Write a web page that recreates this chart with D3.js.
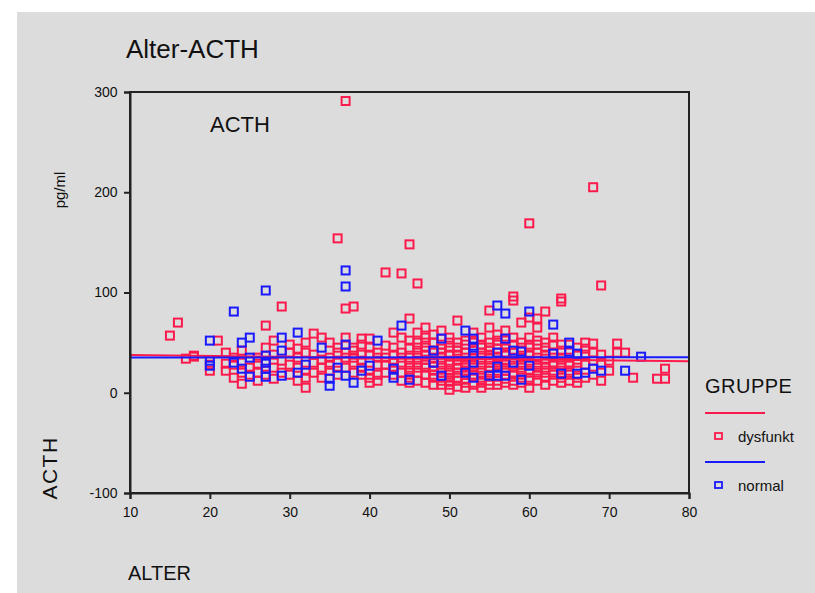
<!DOCTYPE html>
<html><head><meta charset="utf-8">
<script src="https://cdn.jsdelivr.net/npm/d3@7/dist/d3.min.js"></script>
<style>body{margin:0;background:#fff;} text{font-family:"Liberation Sans",Arial,sans-serif;}</style>
</head><body>
<svg id="c" width="815" height="593"></svg>
<script>
// ---- data (age : ACTH values) ----
const dysfunktByAge = [
 [15,[57]],[16,[70]],[17,[34]],[18,[36,37]],[20,[22,28]],[21,[52]],[22,[29,22,40]],
 [23,[35,15,28]],[24,[42,9,20,30]],[25,[18,25]],[26,[12,29,20,35]],[27,[67,45,18,30]],
 [28,[52,25,38,14]],[29,[86,20,32]],[30,[40,28,18,48]],[31,[44,35,12,25]],
 [32,[5,40,15,50,22]],[33,[59,30,20,38]],[34,[55,25,15,33]],[35,[22,50,35,28]],
 [36,[154,40,18,30,45]],[37,[291,84,25,35,55,40]],[38,[86,30,20,42,45,35]],
 [39,[54,25,38,18,48,32]],[40,[54,15,45,22,10,38]],[41,[28,18,40,12,35]],
 [42,[120,47,35,20,28]],[43,[60,25,38,45,30,18]],[44,[119,40,20,30,12,55,35]],
 [45,[148,74,35,25,15,45,10,52,30,20]],[46,[109,60,30,20,40,12,50,25,35,45]],
 [47,[65,28,18,38,45,10,25,33,50,55]],[48,[58,35,22,15,8,50,26,18,40,30]],
 [49,[62,30,20,12,40,25,48,35,8,15,44]],[50,[55,38,28,15,8,45,22,32,18,3,50,12]],
 [51,[72,32,20,12,42,25,50,38,15,6,28,45]],[52,[40,28,18,10,35,48,22,30,14,52,25,5]],
 [53,[60,50,35,22,25,52,8,10,18,28,42]],[54,[48,35,25,15,40,20,30,10,55,5,45,12]],
 [55,[82,65,42,30,18,25,12,38,50,22,35,8,45]],[56,[58,48,28,20,12,35,32,8,52,22,44]],
 [57,[62,45,32,22,38,28,10,52,40,25,14,48]],[58,[96,92,55,40,18,25,35,12,48,8,20,30]],
 [59,[70,42,30,20,15,35,25,50,10,45,28]],[60,[169,75,45,32,22,15,38,5,55,48,28,12]],
 [61,[74,65,40,28,18,35,25,48,12,22,52]],[62,[81,45,30,20,38,25,15,50,8,34]],
 [63,[55,40,28,18,35,22,12,48,30]],[64,[94,91,42,30,20,35,25,15,10,48]],
 [65,[48,35,28,22,12,30,18]],[66,[45,30,25,15,10,38]],[67,[50,38,28,15,44]],
 [68,[205,49,40,32,18]],[69,[107,38,28,12]],[70,[22,32]],[71,[49,40]],
 [72,[40]],[73,[15]],[76,[14]],[77,[24,14]]
];
const normalByAge = [
 [20,[52,32,27]],[23,[81,30]],[24,[50,24]],[25,[55,35,16]],[27,[102,37,30,24,16]],
 [29,[55,42,17]],[31,[60,20]],[32,[28]],[34,[45]],[35,[14,7]],[36,[25]],
 [37,[122,106,48,17]],[38,[10]],[39,[22]],[40,[27]],[41,[52]],[43,[24,15]],
 [44,[67]],[45,[13]],[48,[42,30]],[49,[54,17]],[52,[62,20]],[53,[54,45,39,30,15]],
 [55,[17]],[56,[87,40,26,17]],[57,[79,54,17]],[58,[42,30]],[59,[41,13]],
 [60,[81,27]],[63,[68,39]],[64,[19]],[65,[50,41]],[66,[39,19]],[67,[20]],
 [68,[24]],[69,[22]],[72,[22]],[74,[36]]
];
// fitted lines: [age, ACTH]
const fitDysfunkt = [[10,37.6],[80,31.3]];
const fitNormal = [[10,35.2],[80,35.4]];
const xTicks = [10,20,30,40,50,60,70,80];
const yTicks = [-100,0,100,200,300];
const groups = ["dysfunkt","normal"];
const colors = {dysfunkt:"#ff1a4d", normal:"#1a1aff"};

const flat = arr => arr.flatMap(([a,vs]) => vs.map(v => ({age:a, v:v})));
const ptsD = flat(dysfunktByAge), ptsN = flat(normalByAge);

const svg = d3.select("#c");
svg.append("rect").attr("x",17).attr("y",12).attr("width",798).attr("height",581).attr("fill","#dcdcdc");

const L=130, R=689, T=92, B=493;
const x = d3.scaleLinear().domain([10,80]).range([L,R]);
const y = d3.scaleLinear().domain([-100,300]).range([B,T]);

// title
svg.append("text").attr("x",126).attr("y",58).attr("font-size",26).attr("fill","#111").text("Alter-ACTH");

// points
const s = 8;
function drawPts(pts, col){
  svg.append("g").selectAll("rect").data(pts).join("rect")
    .attr("x", d => x(d.age)-s/2).attr("y", d => y(d.v)-s/2)
    .attr("width", s).attr("height", s)
    .attr("fill","none").attr("stroke", col).attr("stroke-width",2);
}
drawPts(ptsD, colors.dysfunkt);
drawPts(ptsN, colors.normal);

// fit lines
const line = d3.line().x(d => x(d[0])).y(d => y(d[1]));
svg.append("path").attr("d", line(fitDysfunkt)).attr("stroke", colors.dysfunkt).attr("stroke-width",2).attr("fill","none");
svg.append("path").attr("d", line(fitNormal)).attr("stroke", colors.normal).attr("stroke-width",2).attr("fill","none");

// frame
svg.append("rect").attr("x",L).attr("y",T).attr("width",R-L).attr("height",B-T)
  .attr("fill","none").attr("stroke","#222").attr("stroke-width",2);

// axes
const fmt = d => String(d);
const ax = svg.append("g").attr("transform",`translate(0,${B})`)
  .call(d3.axisBottom(x).tickValues(xTicks).tickSize(6).tickFormat(fmt));
const ay = svg.append("g").attr("transform",`translate(${L},0)`)
  .call(d3.axisLeft(y).tickValues(yTicks).tickSize(6).tickFormat(fmt));
[ax,ay].forEach(g => {
  g.select(".domain").attr("stroke","#222").attr("stroke-width",2);
  g.selectAll(".tick line").attr("stroke","#222").attr("stroke-width",2);
  g.selectAll(".tick text").attr("fill","#111").attr("font-size",14)
    .attr("font-family","'Liberation Sans Narrow','Liberation Sans',Arial,sans-serif");
});
ax.selectAll(".tick text").attr("dy","1.05em");
ay.selectAll(".tick text").attr("dx","-0.25em");

// axis titles
svg.append("text").attr("transform","translate(65,190) rotate(-90)").attr("text-anchor","middle")
  .attr("font-size",15).attr("fill","#111").text("pg/ml");
svg.append("text").attr("transform","translate(57,468) rotate(-90)").attr("text-anchor","middle")
  .attr("font-size",21).attr("letter-spacing",1.5).attr("fill","#111").text("ACTH");
svg.append("text").attr("x",128).attr("y",580).attr("font-size",20).attr("fill","#111").text("ALTER");
svg.append("text").attr("x",210).attr("y",132).attr("font-size",22).attr("fill","#111").text("ACTH");

// legend
svg.append("text").attr("x",705).attr("y",393).attr("font-size",20).attr("letter-spacing",0.5).attr("fill","#111").text("GRUPPE");
groups.forEach((g,i) => {
  const yl = 413 + i*49;
  svg.append("line").attr("x1",705).attr("x2",765).attr("y1",yl).attr("y2",yl)
    .attr("stroke",colors[g]).attr("stroke-width",2);
  svg.append("rect").attr("x",715).attr("y",yl+20).attr("width",7).attr("height",6)
    .attr("fill","none").attr("stroke",colors[g]).attr("stroke-width",1.8);
  svg.append("text").attr("x",738).attr("y",yl+29).attr("font-size",15).attr("fill","#111").text(g);
});
</script>
</body></html>
